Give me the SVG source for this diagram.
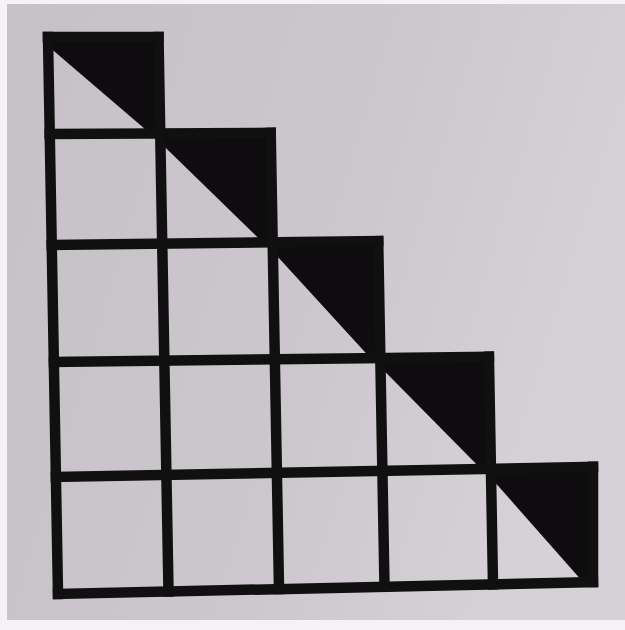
<svg xmlns="http://www.w3.org/2000/svg" width="625" height="630" viewBox="0 0 625 630">
  <defs>
    <linearGradient id="paper" x1="0" y1="0" x2="1" y2="0.3">
      <stop offset="0" stop-color="#c5c1c7"/>
      <stop offset="0.6" stop-color="#ccc7cd"/>
      <stop offset="1" stop-color="#d6d1d6"/>
    </linearGradient>
  </defs>
  <style>
    .ln { stroke: #111011; stroke-width: 10.5; stroke-linecap: square; fill: none; }
    .tri { fill: #0e0c0e; stroke: none; }
  </style>
  <rect x="0" y="0" width="625" height="630" fill="#f4f2f4"/>
  <rect x="7" y="4" width="618" height="616" fill="url(#paper)"/>
  <g id="triangles">
    <polygon class="tri" points="48,37 48,46 150.2,133.5 160.2,133.5 158.5,37"/>
    <polygon class="tri" points="160.2,133.5 160.2,142.5 262.7,242.3 272.7,242.3 270.7,132.9"/>
    <polygon class="tri" points="272.7,242.3 272.7,251.3 370.4,358 380.4,358 378.2,241.1"/>
    <polygon class="tri" points="380.4,358 380.4,367 480.9,468.7 490.9,468.7 488.9,356.7"/>
    <polygon class="tri" points="490.9,468.7 490.9,477.7 583,582.1 593,582.1 593,466.8"/>
  </g>
  <g id="grid">
    <line class="ln" x1="48" y1="37" x2="158.5" y2="37"/>
    <line class="ln" x1="49.7" y1="134" x2="270.7" y2="132.9"/>
    <line class="ln" x1="51.7" y1="245" x2="378.2" y2="241.1"/>
    <line class="ln" x1="53.9" y1="362" x2="488.9" y2="356.7"/>
    <line class="ln" x1="55.9" y1="477" x2="593" y2="466.8"/>
    <line class="ln" x1="58" y1="594" x2="593" y2="582.1"/>
    <line class="ln" x1="48" y1="37" x2="58" y2="594"/>
    <line class="ln" x1="158.5" y1="37" x2="168.5" y2="591.5"/>
    <line class="ln" x1="270.7" y1="132.9" x2="279" y2="589"/>
    <line class="ln" x1="378.2" y1="241.1" x2="384.5" y2="586.6"/>
    <line class="ln" x1="488.9" y1="356.7" x2="493" y2="584.3"/>
    <line class="ln" x1="593" y1="466.8" x2="593" y2="582.1"/>
  </g>
</svg>
